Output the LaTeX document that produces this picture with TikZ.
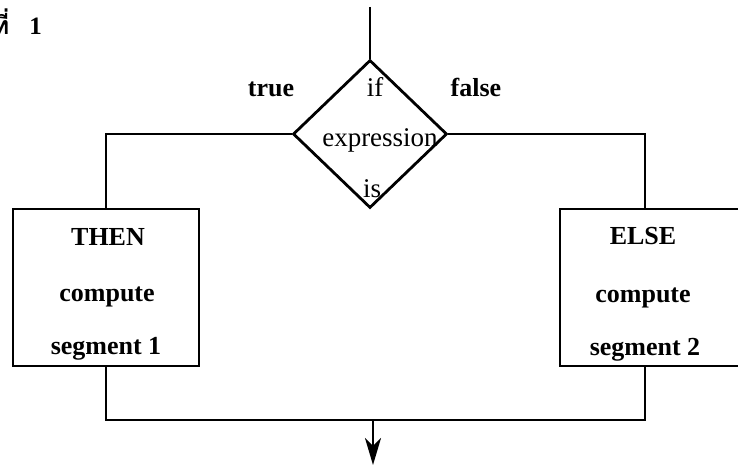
\documentclass[tikz,border=0pt]{standalone}
\usepackage{fontspec}
\setmainfont{Liberation Serif}
\newfontfamily\thaifont[Script=Thai]{Loma}
\usetikzlibrary{shapes.geometric,arrows.meta}
\tikzset{
  line/.style={line width=2.8pt},
  lbl/.style={inner sep=0pt, anchor=base, font=\fontsize{26}{30}\selectfont\bfseries},
  ilbl/.style={inner sep=0pt, anchor=base, font=\fontsize{27}{31}\selectfont},
  boxnode/.style={draw, line width=2.8pt, minimum height=157pt, inner sep=0pt},
}
\begin{document}
\begin{tikzpicture}[x=1pt,y=-1pt]
\useasboundingbox (0,0) rectangle (738,465);
\node[anchor=base east, inner sep=0pt, font=\fontsize{25}{28}\selectfont\bfseries] (title) at (42,35) {{\thaifont ที่}\hspace{20pt}1};
\coordinate (top) at (370,7);
\node[draw, line width=2.8pt, diamond, minimum width=154pt, minimum height=148pt, inner sep=0pt] (dec) at (370,134) {};
\node[ilbl] (if) at (375,97) {if};
\node[ilbl] (expr) at (380,147) {expression};
\node[ilbl] (is) at (372,197) {is};
\node[lbl] (true) at (271,97) {true};
\node[lbl] (false) at (476,97) {false};
\node[boxnode, minimum width=186pt] (lbox) at (106,287.5) {};
\node[boxnode, minimum width=190pt] (rbox) at (655,287.5) {};
\node[lbl] (then) at (108,245) {THEN};
\node[lbl] (lc) at (107,301) {compute};
\node[lbl] (ls) at (106,354) {segment 1};
\node[lbl] (else) at (643,244) {ELSE};
\node[lbl] (rc) at (643,302) {compute};
\node[lbl] (rs) at (645,355) {segment 2};
\coordinate (jl) at (106,420);
\coordinate (jr) at (645,420);
\coordinate (jm) at (373,420);
\coordinate (out) at (373,465);
\draw[line] (top) -- (dec.north);
\draw[line] (dec.west) -| (lbox.north);
\draw[line] (dec.east) -| (rbox.north west -| rs);
\draw[line] (lbox.south) -- (jl) -- (jr) -- (rbox.south west -| rs);
\draw[line, -{Stealth[length=27pt,width=16pt,inset=8pt]}] (jm) -- (out);
\end{tikzpicture}
\end{document}
